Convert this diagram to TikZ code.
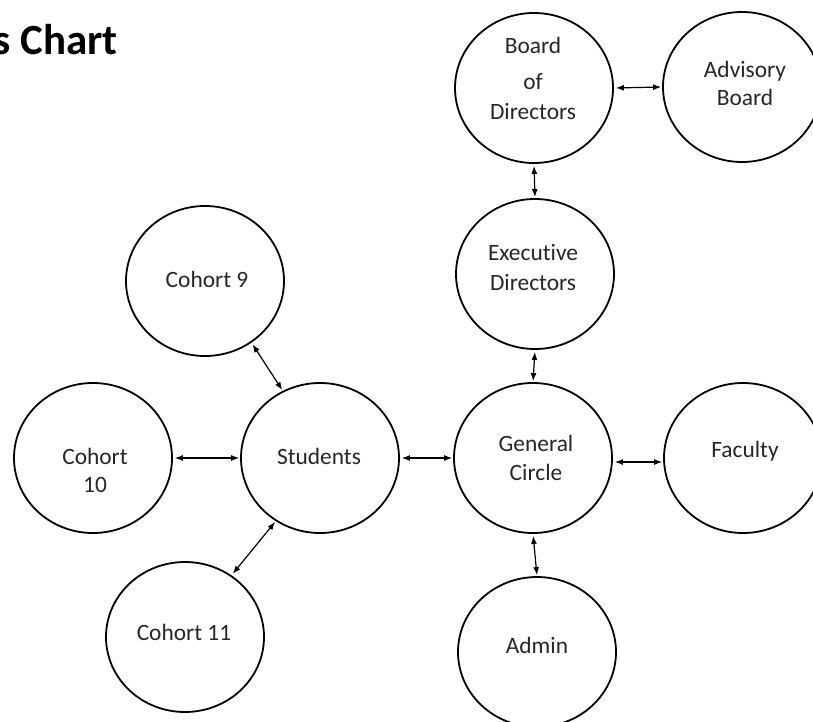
\documentclass[tikz,border=0pt]{standalone}
\usepackage{fontspec}
\setmainfont{Carlito}[Ligatures=NoCommon]
\usetikzlibrary{shapes.geometric,arrows.meta}
\begin{document}
\begin{tikzpicture}[x=1pt,y=-1pt,
  circ/.style={ellipse,draw=black,line width=1.8pt,minimum width=158pt,minimum height=150pt,inner sep=0pt},
  lbl/.style={anchor=base,inner sep=0pt,text=black!85,font=\fontsize{23.4}{29}\selectfont},
  link/.style={line width=1.2pt,{Latex[length=8pt,width=6pt]}-{Latex[length=8pt,width=6pt]},shorten <=2pt,shorten >=1pt},
  ttl/.style={anchor=base east,inner sep=0pt,font=\fontsize{43}{50}\selectfont\bfseries}]
\useasboundingbox (0,0) rectangle (813,722);
% title
\node[ttl] (title) at (118,55) {s Chart};
% ellipses
\node[circ] (bod) at (534,88) {};
\node[circ] (adv) at (742,87) {};
\node[circ] (exd) at (535,274) {};
\node[circ] (c9) at (205,281) {};
\node[circ] (c10) at (93,458) {};
\node[circ] (stu) at (320,458) {};
\node[circ] (c11) at (185,637) {};
\node[circ] (gen) at (533,458) {};
\node[circ] (fac) at (743,458) {};
\node[circ] (adm) at (537,652) {};
% labels
\node[lbl] (bodt1) at (533,53.5) {Board};
\node[lbl] (bodt2) at (533,89.5) {of};
\node[lbl] (bodt3) at (533,119.5) {Directors};
\node[lbl] (advt1) at (745,77.5) {Advisory};
\node[lbl] (advt2) at (745,105.5) {Board};
\node[lbl] (exdt1) at (533,260.5) {Executive};
\node[lbl] (exdt2) at (533,290.5) {Directors};
\node[lbl] (c9t) at (207,287.5) {Cohort 9};
\node[lbl] (c10t1) at (95,464.5) {Cohort};
\node[lbl] (c10t2) at (95,492.5) {10};
\node[lbl] (stut) at (319,464.5) {Students};
\node[lbl] (c11t) at (184,640.5) {Cohort 11};
\node[lbl] (gent1) at (536,451.5) {General};
\node[lbl] (gent2) at (536,480.5) {Circle};
\node[lbl] (fact) at (745,457.5) {Faculty};
\node[lbl] (admt) at (537,653.5) {Admin};
% connectors
\draw[link] (bod.east) -- (adv.west);
\draw[link] (bod.south) -- (exd.north);
\draw[link] (exd.south) -- (gen.north);
\draw[link] (gen.south) -- (adm.north);
\draw[link] ([yshift=-4pt]gen.east) -- ([yshift=-4pt]fac.west);
\draw[link] (stu.east) -- (gen.west);
\draw[link] (c10.east) -- (stu.west);
\draw[link] (c9.307) -- (stu.119);
\draw[link] (c11.53) -- (stu.235);
\end{tikzpicture}
\end{document}
